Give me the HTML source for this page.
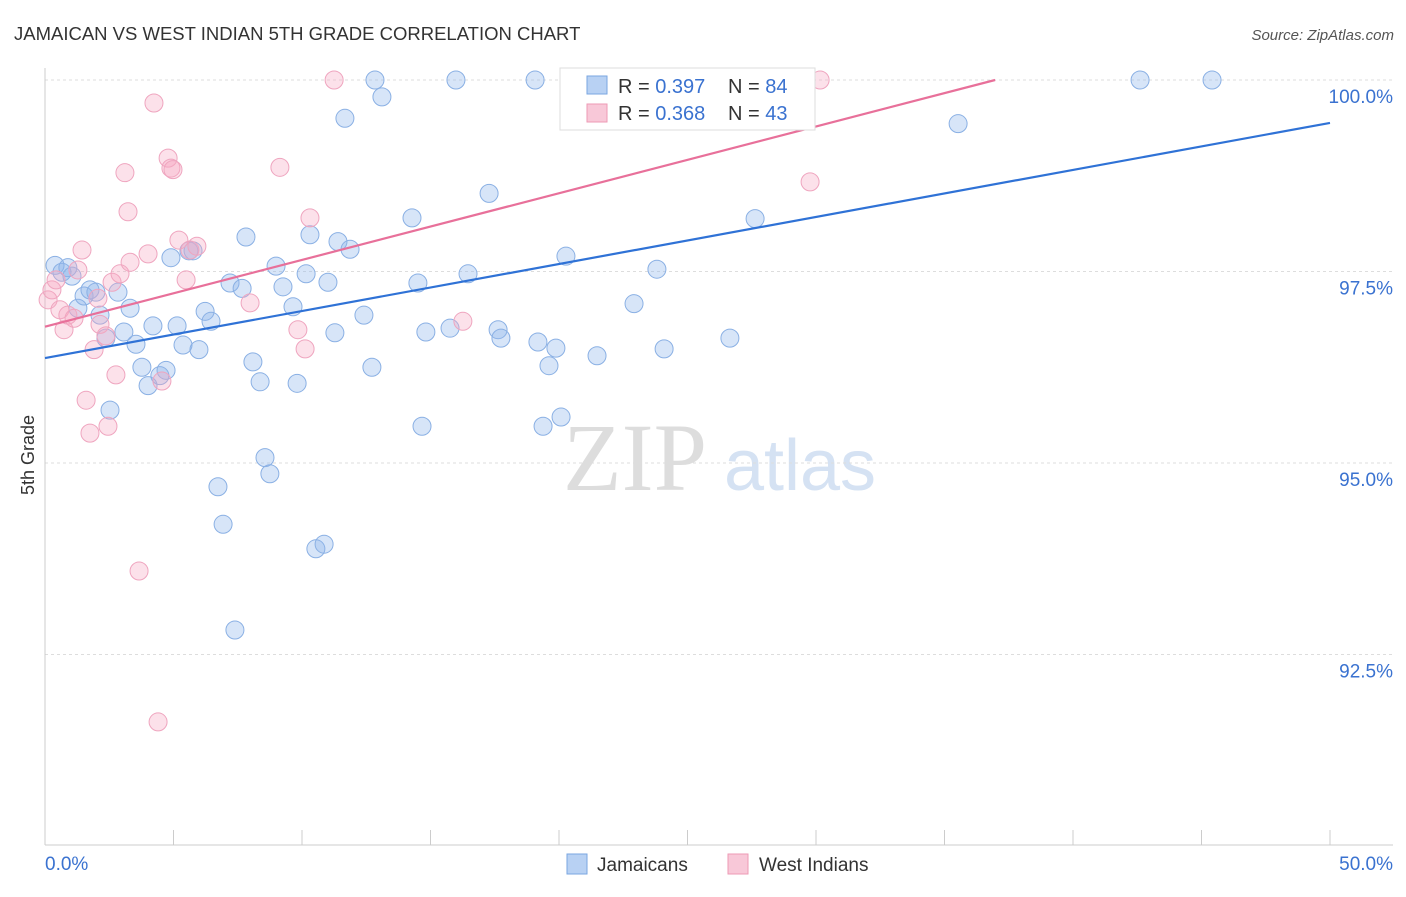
<!DOCTYPE html>
<html><head><meta charset="utf-8"><style>
body{margin:0;background:#fff;font-family:"Liberation Sans",sans-serif}
svg text{font-family:"Liberation Sans",sans-serif}
</style></head><body>
<svg id="c" width="1406" height="892">
<text x="14" y="40" font-size="18.5" fill="#333">JAMAICAN VS WEST INDIAN 5TH GRADE CORRELATION CHART</text>
<text x="1394" y="40" font-size="15" fill="#555" text-anchor="end" font-style="italic">Source: ZipAtlas.com</text>
<text x="0" y="0" font-size="18" fill="#333" transform="translate(34,455) rotate(-90)" text-anchor="middle">5th Grade</text>
<g><text x="635" y="490" font-size="96" fill="#ddd" text-anchor="middle" style="font-family:'Liberation Serif',serif">ZIP</text><text x="800" y="490" font-size="72" fill="#d5e2f3" text-anchor="middle">atlas</text></g>
<g id="grid"></g><g id="axes"></g><g id="pts"></g><g id="lines"></g>
<g>
<rect x="560" y="68" width="255" height="62" fill="#fff" stroke="#ddd"/>
<rect x="587" y="76" width="20" height="18" fill="#b8d1f3" stroke="#7aa6e0"/>
<text x="618" y="93" font-size="20" fill="#333">R = <tspan fill="#3a72d0">0.397</tspan></text>
<text x="728" y="93" font-size="20" fill="#333">N = <tspan fill="#3a72d0">84</tspan></text>
<rect x="587" y="104" width="20" height="18" fill="#f8c8d8" stroke="#ee9ab5"/>
<text x="618" y="120" font-size="20" fill="#333">R = <tspan fill="#3a72d0">0.368</tspan></text>
<text x="728" y="120" font-size="20" fill="#333">N = <tspan fill="#3a72d0">43</tspan></text>
</g>
<g>
<rect x="567" y="854" width="20" height="20" fill="#b8d1f3" stroke="#7aa6e0"/>
<text x="597" y="871" font-size="19" fill="#333">Jamaicans</text>
<rect x="728" y="854" width="20" height="20" fill="#f8c8d8" stroke="#ee9ab5"/>
<text x="759" y="871" font-size="19" fill="#333">West Indians</text>
</g>
</svg>
<script>
const blueX=[0.39,0.66,0.89,1.05,1.28,1.52,1.75,1.98,2.14,2.37,2.53,2.84,3.07,3.31,3.54,3.77,4.01,4.20,4.47,4.71,4.90,5.14,5.37,5.60,5.76,5.99,6.23,6.46,6.73,6.93,7.20,7.39,7.67,7.82,8.09,8.37,8.56,8.75,8.99,9.26,9.65,9.81,10.16,10.31,10.54,10.86,11.01,11.28,11.40,11.67,11.87,12.41,12.72,12.84,13.11,14.28,14.51,14.67,14.82,15.76,15.99,16.46,17.28,17.63,17.74,19.07,19.18,19.38,19.61,19.88,20.08,20.27,21.48,22.92,23.81,24.09,26.54,26.65,27.63,28.56,35.53,42.61,45.41];
const blueY=[97.58,97.49,97.55,97.44,97.02,97.18,97.26,97.23,96.93,96.63,95.69,97.23,96.71,97.02,96.55,96.25,96.01,96.79,96.14,96.21,97.68,96.79,96.54,97.77,97.77,96.48,96.98,96.85,94.69,94.20,97.35,92.82,97.28,97.95,96.32,96.06,95.07,94.86,97.57,97.30,97.04,96.04,97.47,97.98,93.88,93.94,97.36,96.70,97.89,99.50,97.79,96.93,96.25,100,99.78,98.20,97.35,95.48,96.71,96.76,100,97.47,98.52,96.74,96.63,100,96.58,95.48,96.27,96.50,95.60,97.70,96.40,97.08,97.53,96.49,100,96.63,98.19,100,99.43,100,100];
const pinkX=[0.12,0.27,0.43,0.58,0.74,0.89,1.13,1.28,1.44,1.60,1.75,1.91,2.06,2.14,2.37,2.45,2.61,2.76,2.92,3.11,3.23,3.31,3.66,4.01,4.24,4.40,4.55,4.79,4.90,4.98,5.21,5.49,5.64,5.91,7.98,9.14,9.84,10.12,10.31,11.25,16.26,29.77,30.16];
const pinkY=[97.13,97.26,97.39,97.00,96.74,96.93,96.89,97.52,97.78,95.82,95.39,96.48,97.15,96.81,96.66,95.48,97.36,96.15,97.47,98.79,98.28,97.62,93.59,97.73,99.70,91.62,96.07,98.98,98.85,98.83,97.91,97.39,97.78,97.83,97.09,98.86,96.74,96.49,98.20,100,96.85,98.67,100];
const blueTrend=[96.37,0.0614];
const pinkTrend=[96.78,0.0871];
const yTicks=[100,97.5,95,92.5];
const yTickLabels=["100.0%","97.5%","95.0%","92.5%"];
const xTicks=[0,5,10,15,20,25,30,35,40,45,50];
const NS="http://www.w3.org/2000/svg";
const X=v=>45+v*25.7, Y=v=>80+(100-v)*76.6;
function mk(tag,at,parent){const e=document.createElementNS(NS,tag);for(const k in at)e.setAttribute(k,at[k]);document.getElementById(parent).appendChild(e);return e;}
yTicks.forEach((t,i)=>{
 const g=mk('line',{x1:45,x2:1393,y1:Y(t),y2:Y(t),stroke:'#ddd','stroke-dasharray':'3,3'},'grid');
 
 
 const tx=mk('text',{x:1393,y:Y(t)+23,'font-size':19,fill:'#3a72d0','text-anchor':'end'},'grid');
 tx.textContent=yTickLabels[i];
 
 
});
const ax=mk('line',{x1:45,x2:45,y1:68,y2:845,stroke:'#ccc'},'axes');


const bx=mk('line',{x1:45,x2:1393,y1:845,y2:845,stroke:'#ccc'},'axes');


xTicks.forEach(t=>{
 const l=mk('line',{x1:X(t),x2:X(t),y1:830,y2:845,stroke:'#ccc'},'axes');
 
 
});
const l0=mk('text',{x:45,y:870,'font-size':19,fill:'#3a72d0'},'axes');l0.textContent='0.0%';


const l1=mk('text',{x:1393,y:870,'font-size':19,fill:'#3a72d0','text-anchor':'end'},'axes');l1.textContent='50.0%';


function pts(xs,ys,fill,stroke,name){xs.forEach((x,i)=>{
 const c=mk('circle',{cx:X(x),cy:Y(ys[i]),r:9,fill:fill,stroke:stroke,'stroke-width':1},'pts');
 
 
});}
pts(blueX,blueY,'rgba(140,180,235,0.35)','#8ab0e4','jamaican-point');
pts(pinkX,pinkY,'rgba(245,170,195,0.35)','#efa5bf','west-indian-point');
const bl=mk('line',{x1:X(0),y1:Y(blueTrend[0]),x2:X(50),y2:Y(blueTrend[0]+50*blueTrend[1]),stroke:'#2f72d6','stroke-width':2.2},'lines');


const pe=(100-pinkTrend[0])/pinkTrend[1];
const pl=mk('line',{x1:X(0),y1:Y(pinkTrend[0]),x2:X(pe),y2:Y(100),stroke:'#e8709a','stroke-width':2.2},'lines');


</script>
</body></html>
